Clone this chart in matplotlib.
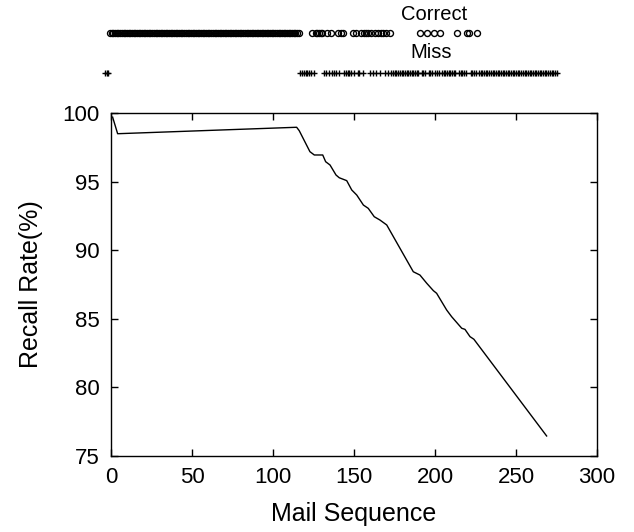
import matplotlib
matplotlib.use("Agg")
import matplotlib.pyplot as plt

plt.rcParams["font.family"] = ["Liberation Sans", "DejaVu Sans"]

# recall curve
line_x = [1, 4.1, 114.6, 116.2, 122.8, 125.5, 130.7, 132.5, 135.2, 138.9, 140.9,
          145.5, 148.6, 151.7, 155.8, 158.8, 162.5, 166.0, 170.2, 186.6, 190.7,
          194.9, 199.0, 201.0, 207.2, 210.3, 216.5, 218.5, 221.6, 224.0, 268.9]
line_y = [99.7, 98.49, 98.96, 98.71, 97.18, 96.94, 96.94, 96.45, 96.21, 95.48, 95.28,
          95.07, 94.39, 94.02, 93.29, 93.05, 92.44, 92.20, 91.84, 88.43, 88.19,
          87.59, 87.05, 86.86, 85.64, 85.15, 84.31, 84.23, 83.70, 83.51, 76.46]

# per-mail outcome strip
correct_first_run = (4, 116)
correct_later = [124, 126, 127, 128, 129, 130, 133, 135, 139, 141, 142, 148, 150,
                 153, 155, 156, 157, 159, 161, 163, 165, 166, 168, 170,
                 188, 192, 196, 200, 210, 216, 217, 222]
miss_first = [1, 2, 3]
last_mail = 269

correct = list(range(correct_first_run[0], correct_first_run[1] + 1)) + correct_later
miss = miss_first + [m for m in range(correct_first_run[1] + 1, last_mail + 1)
                     if m not in correct_later]

xticks = [0, 50, 100, 150, 200, 250, 300]
yticks = [75, 80, 85, 90, 95, 100]

W, H = 634, 532
fig = plt.figure(figsize=(W / 100, H / 100), dpi=100)

ax = fig.add_axes([111 / W, 1 - 456 / H, (597 - 111) / W, (456 - 113) / H])
ax.plot(line_x, line_y, color="black", lw=1.0)
ax.set_xlim(0, 300)
ax.set_ylim(75, 100)
ax.set_xticks(xticks)
ax.set_yticks(yticks)
ax.tick_params(direction="in", length=5, width=1, top=True, right=True,
               labelsize=16, pad=8)
for s in ax.spines.values():
    s.set_linewidth(1.0)
ax.set_xlabel("Mail Sequence", fontsize=18, labelpad=10)
ax.set_ylabel("Recall Rate(%)", fontsize=18, labelpad=14)

# strip above the plot
sx = fig.add_axes([103.3 / W, 1 - 73 / H, 505.5 / W, 40 / H])
sx.set_xlim(0, 300)
sx.set_ylim(0, 1)
sx.axis("off")
sx.plot(correct, [1] * len(correct), ls="none", marker="o", ms=4.3,
        mfc="none", mec="black", mew=1.0, clip_on=False)
sx.plot(miss, [0] * len(miss), ls="none", marker="+", ms=5,
        mec="black", mew=1.0, clip_on=False)
fig.text(434 / W, 1 - 15 / H, "Correct", ha="center", va="center", fontsize=14.5)
fig.text(431 / W, 1 - 53 / H, "Miss", ha="center", va="center", fontsize=14.5)

fig.savefig("out.png", dpi=100)
